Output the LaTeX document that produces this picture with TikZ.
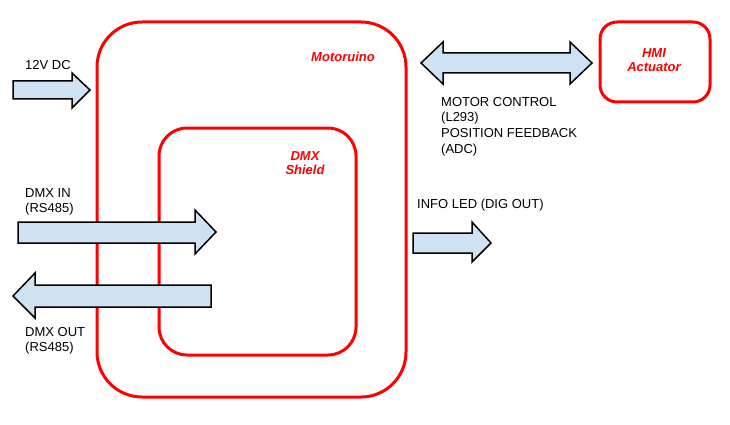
\documentclass[tikz,border=0pt]{standalone}
\usepackage{fontspec}
\setmainfont{Liberation Sans}
\definecolor{arrowfill}{HTML}{CFE2F3}
\tikzset{
  board/.style={draw=red,line width=3pt},
  boardlabel/.style={text=red,font=\fontsize{13}{14.5}\selectfont\bfseries\itshape,align=center,inner sep=0pt},
  fatarrow/.style={draw=black,fill=arrowfill,line width=1.5pt,line join=miter},
  sig/.style={font=\fontsize{13}{15.7}\selectfont,align=left,anchor=north west,inner sep=0pt}
}

\begin{document}
\begin{tikzpicture}[x=1pt,y=-1pt]
    \useasboundingbox (0,0) rectangle (730,425);
    % boards
    \draw[board,rounded corners=45pt] (97,22) rectangle (406,397);
    \draw[board,rounded corners=28pt] (159,128) rectangle (356,355);
    \draw[board,rounded corners=17pt] (600,22) rectangle (710,102);
    \node[boardlabel] (motoruino) at (343,57) {Motoruino};
    \node[boardlabel] (shield) at (305,163) {DMX\\Shield};
    \node[boardlabel] (hmi) at (654,60) {HMI\\Actuator};
    % arrows
    \draw[fatarrow] (13,81) -- (72,81) -- (72,73) -- (90,90) -- (72,108) -- (72,99) -- (13,99) -- cycle;
    \draw[fatarrow] (421,63) -- (443,42) -- (443,53) -- (570,53) -- (570,42) -- (592,63)
        -- (570,84) -- (570,73) -- (443,73) -- (443,84) -- cycle;
    \draw[fatarrow] (18,222) -- (195,222) -- (195,210) -- (216,232) -- (195,254) -- (195,243) -- (18,243) -- cycle;
    \draw[fatarrow] (211,285) -- (35,285) -- (35,273) -- (13,296) -- (35,318) -- (35,307) -- (211,307) -- cycle;
    \draw[fatarrow] (413,233) -- (472,233) -- (472,222) -- (491,243) -- (472,262) -- (472,253) -- (413,253) -- cycle;
    % signal labels
    \node[sig] (power) at (25,60) {12V DC};
    \node[sig] (motor) at (441,97) {MOTOR CONTROL\\(L293)\\POSITION FEEDBACK\\(ADC)};
    \node[sig] (led) at (417,199) {INFO LED (DIG OUT)};
    \node[sig] (dmxin) at (25,188) {DMX IN\\(RS485)};
    \node[sig] (dmxout) at (25,327) {DMX OUT\\(RS485)};
\end{tikzpicture}
\end{document}
